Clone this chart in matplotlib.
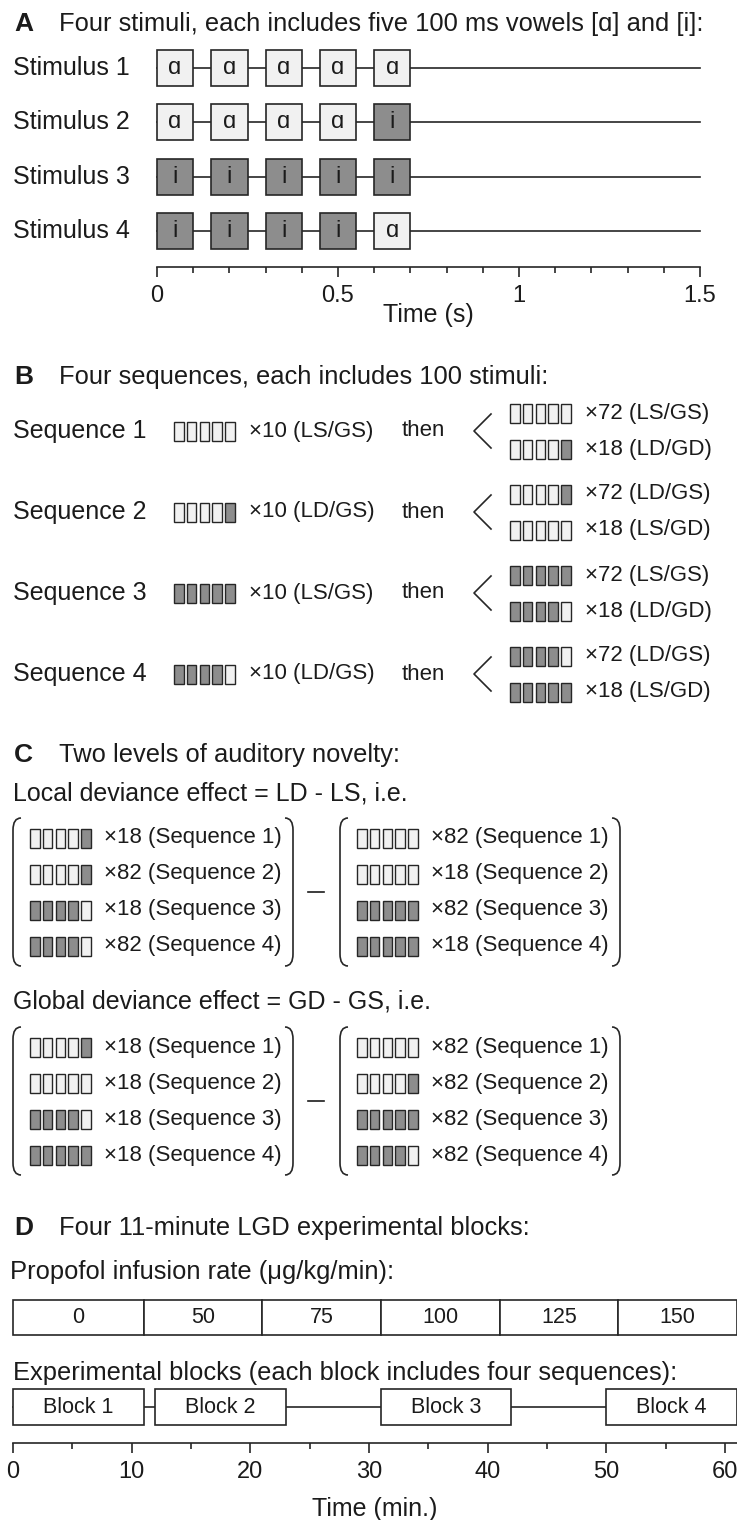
import numpy as np
import matplotlib
matplotlib.use("Agg")
import matplotlib.pyplot as plt
from matplotlib.patches import Rectangle, PathPatch
from matplotlib.path import Path
from matplotlib.ticker import MultipleLocator, FuncFormatter
from matplotlib.transforms import blended_transform_factory

plt.rcParams["font.family"] = ["Liberation Sans", "DejaVu Sans"]

# A: the four five-vowel stimuli
stimulus_names = ["Stimulus 1", "Stimulus 2", "Stimulus 3", "Stimulus 4"]
stimulus_vowels = ["ɑɑɑɑɑ", "ɑɑɑɑi", "iiiii", "iiiiɑ"]
vowel_onsets = [0.0, 0.15, 0.30, 0.45, 0.60]
vowel_duration = 0.1
trial_length = 1.5

# B: sequences = 10 habituation stimuli, then 72 frequent + 18 rare
sequence_names = ["Sequence 1", "Sequence 2", "Sequence 3", "Sequence 4"]
habituation_stimulus = [0, 1, 2, 3]
habituation_count = 10
habituation_labels = ["LS/GS", "LD/GS", "LS/GS", "LD/GS"]
frequent_stimulus = [0, 1, 2, 3]
frequent_count = 72
frequent_labels = ["LS/GS", "LD/GS", "LS/GS", "LD/GS"]
rare_stimulus = [1, 0, 3, 2]
rare_count = 18
rare_labels = ["LD/GD", "LS/GD", "LD/GD", "LS/GD"]

# C: contrasts
local_deviant_stimulus = [1, 1, 3, 3]
local_deviant_count = [18, 82, 18, 82]
local_standard_stimulus = [0, 0, 2, 2]
local_standard_count = [82, 18, 82, 18]
global_deviant_stimulus = [1, 0, 3, 2]
global_deviant_count = [18, 18, 18, 18]
global_standard_stimulus = [0, 1, 2, 3]
global_standard_count = [82, 82, 82, 82]

# D: propofol schedule and recording blocks (minutes)
infusion_edges = [0, 11, 21, 31, 41, 51, 61]
infusion_rates = [0, 50, 75, 100, 125, 150]
block_names = ["Block 1", "Block 2", "Block 3", "Block 4"]
block_starts = [0, 12, 31, 50]
block_ends = [11, 23, 42, 61]

W, H = 737, 1520
INK = "#1b1b1b"
EDGE = "#262626"
LIGHT = "#f1f1f1"
DARK = "#8d8d8d"
LW = 1.2
TITLE = 18.4
BIG = 18
SMALL = 16


def fill_for(vowel):
    return LIGHT if vowel == "ɑ" else DARK


def px_axes(fig, left, top, right, bottom):
    ax = fig.add_axes([left / W, 1 - bottom / H, (right - left) / W, (bottom - top) / H])
    ax.patch.set_alpha(0)
    return ax


def draw_glyph(ax, x, y, vowels, w=9.6, h=19, gap=3.2):
    for k, v in enumerate(vowels):
        ax.add_patch(Rectangle((x + k * (w + gap), y - h / 2), w, h,
                               facecolor=fill_for(v), edgecolor=EDGE, lw=1.0))


def draw_paren(ax, x, top, bottom, side):
    hook, bend = 8 * side, 12
    verts = [(x + hook, top), (x, top), (x, top + bend),
             (x, bottom - bend), (x, bottom), (x + hook, bottom)]
    codes = [Path.MOVETO, Path.CURVE3, Path.CURVE3, Path.LINETO, Path.CURVE3, Path.CURVE3]
    ax.add_patch(PathPatch(Path(verts, codes), fill=False, edgecolor=EDGE, lw=LW))


def style_time_axis(ax, major, minor, label, labelpad):
    for side in ["top", "left", "right"]:
        ax.spines[side].set_visible(False)
    ax.spines["bottom"].set_linewidth(LW)
    ax.spines["bottom"].set_color(EDGE)
    ax.set_yticks([])
    ax.xaxis.set_major_locator(MultipleLocator(major))
    ax.xaxis.set_minor_locator(MultipleLocator(minor))
    ax.xaxis.set_major_formatter(FuncFormatter(lambda v, pos: f"{v:g}"))
    ax.tick_params(axis="x", which="major", direction="out", length=7, width=LW,
                   color=EDGE, pad=6, labelsize=17, labelcolor=INK)
    ax.tick_params(axis="x", which="minor", direction="out", length=4, width=LW, color=EDGE)
    ax.set_xlabel(label, fontsize=BIG, color=INK, labelpad=labelpad)


fig = plt.figure(figsize=(W / 100, H / 100), dpi=100)
lay = px_axes(fig, 0, 0, W, H)
lay.set_xlim(0, W)
lay.set_ylim(H, 0)
lay.axis("off")


def panel_title(letter, text, y):
    lay.text(14, y, letter, fontsize=19, fontweight="bold", va="center", color=INK)
    lay.text(59, y, text, fontsize=TITLE, va="center", color=INK)


# ---- A ----
panel_title("A", "Four stimuli, each includes five 100 ms vowels [ɑ] and [i]:", 24)
ax_a = px_axes(fig, 157, 45, 700, 267)
ax_a.set_xlim(0, trial_length)
ax_a.set_ylim(3.663, -0.423)
rows = np.arange(len(stimulus_names))
label_tf = blended_transform_factory(lay.transData, ax_a.transData)
for row, name, vowels in zip(rows, stimulus_names, stimulus_vowels):
    ax_a.plot([0, trial_length], [row, row], color=EDGE, lw=LW, zorder=1, clip_on=False)
    for onset, v in zip(vowel_onsets, vowels):
        ax_a.add_patch(Rectangle((onset, row - 0.33), vowel_duration, 0.66, facecolor=fill_for(v),
                                 edgecolor=EDGE, lw=LW, zorder=2, clip_on=False))
        ax_a.text(onset + vowel_duration / 2, row, v, ha="center", va="center",
                  fontsize=17, color=INK, zorder=3)
    ax_a.text(13, row, name, transform=label_tf, va="center", fontsize=BIG, color=INK)
style_time_axis(ax_a, 0.5, 0.1, "Time (s)", -3)

# ---- B ----
panel_title("B", "Four sequences, each includes 100 stimuli:", 377)
seq_y0, seq_step = 431, 81
for i, name in enumerate(sequence_names):
    y = seq_y0 + i * seq_step
    lay.text(13, y, name, fontsize=BIG, va="center", color=INK)
    draw_glyph(lay, 174, y, stimulus_vowels[habituation_stimulus[i]])
    lay.text(249, y, f"×{habituation_count} ({habituation_labels[i]})", fontsize=SMALL, va="center", color=INK)
    lay.text(402, y, "then", fontsize=SMALL, va="center", color=INK)
    lay.plot([491, 474, 491], [y - 17, y, y + 17], color=EDGE, lw=LW)
    branches = [(-18, frequent_stimulus[i], frequent_count, frequent_labels[i]),
                (18, rare_stimulus[i], rare_count, rare_labels[i])]
    for dy, stim, count, lab in branches:
        draw_glyph(lay, 510, y + dy, stimulus_vowels[stim])
        lay.text(585, y + dy, f"×{count} ({lab})", fontsize=SMALL, va="center", color=INK)

# ---- C ----
panel_title("C", "Two levels of auditory novelty:", 755)


def draw_contrast(y0, left_stim, left_count, right_stim, right_count):
    ys = y0 + 36 * np.arange(len(sequence_names))
    mid = ys.mean()
    top, bottom = mid - 74, mid + 74
    for x0, stims, counts in [(13, left_stim, left_count), (340, right_stim, right_count)]:
        draw_paren(lay, x0, top, bottom, 1)
        draw_paren(lay, x0 + 280, top, bottom, -1)
        for y, stim, count, name in zip(ys, stims, counts, sequence_names):
            draw_glyph(lay, x0 + 17, y, stimulus_vowels[stim])
            lay.text(x0 + 91, y, f"×{count} ({name})", fontsize=SMALL, va="center", color=INK)
    lay.plot([308, 324], [mid, mid], color=INK, lw=LW)


lay.text(13, 793, "Local deviance effect = LD - LS, i.e.", fontsize=BIG, va="center", color=INK)
draw_contrast(838, local_deviant_stimulus, local_deviant_count,
              local_standard_stimulus, local_standard_count)
lay.text(13, 1002, "Global deviance effect = GD - GS, i.e.", fontsize=BIG, va="center", color=INK)
draw_contrast(1047, global_deviant_stimulus, global_deviant_count,
              global_standard_stimulus, global_standard_count)

# ---- D ----
panel_title("D", "Four 11-minute LGD experimental blocks:", 1228)
lay.text(10, 1272, "Propofol infusion rate (μg/kg/min):", fontsize=TITLE, va="center", color=INK)
lay.text(13, 1373, "Experimental blocks (each block includes four sequences):", fontsize=TITLE,
         va="center", color=INK)
ax_d = px_axes(fig, 13, 1295, 737, 1443)
ax_d.set_xlim(infusion_edges[0], infusion_edges[-1])
ax_d.set_ylim(1.402, -0.251)
for left, right, rate in zip(infusion_edges[:-1], infusion_edges[1:], infusion_rates):
    ax_d.add_patch(Rectangle((left, -0.195), right - left, 0.39, facecolor="white",
                             edgecolor=EDGE, lw=LW, clip_on=False))
    ax_d.text((left + right) / 2, 0, str(rate), ha="center", va="center", fontsize=15.5, color=INK)
ax_d.plot([block_starts[0], block_ends[-1]], [1, 1], color=EDGE, lw=LW, zorder=1, clip_on=False)
for name, start, end in zip(block_names, block_starts, block_ends):
    ax_d.add_patch(Rectangle((start, 0.8), end - start, 0.4, facecolor="white",
                             edgecolor=EDGE, lw=LW, zorder=2, clip_on=False))
    ax_d.text((start + end) / 2, 1, name, ha="center", va="center", fontsize=15.5, color=INK, zorder=3)
style_time_axis(ax_d, 10, 5, "Time (min.)", 10)

fig.savefig("out.png", dpi=100)
